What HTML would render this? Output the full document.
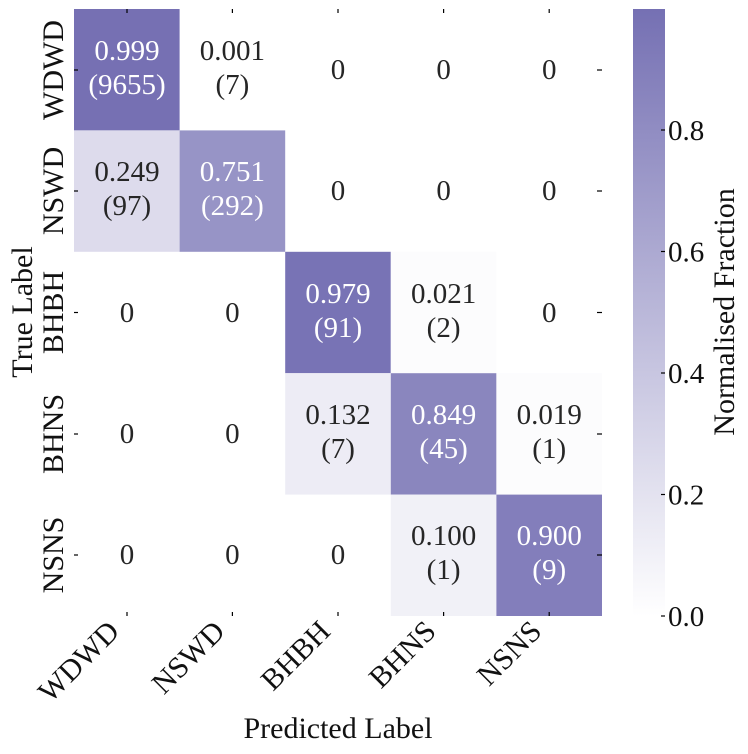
<!DOCTYPE html>
<html><head><meta charset="utf-8"><style>
html,body{margin:0;padding:0;background:#fff;}
svg{display:block;font-family:"Liberation Serif","DejaVu Serif",serif;}
</style></head><body>
<svg width="748" height="754" viewBox="0 0 748 754" xmlns="http://www.w3.org/2000/svg">
<defs>
<linearGradient id="cb" x1="0" y1="1" x2="0" y2="0">
<stop offset="0" stop-color="#ffffff"/>
<stop offset="1" stop-color="#7570b3"/>
</linearGradient>
</defs>
<g>
<rect x="74" y="9" width="105.6" height="121.4" fill="#7670b3"/>
<rect x="74" y="130.4" width="105.6" height="121.4" fill="#dddbec"/>
<rect x="179.6" y="130.4" width="105.6" height="121.4" fill="#9794c6"/>
<rect x="285.2" y="251.8" width="105.6" height="121.4" fill="#7873b5"/>
<rect x="390.8" y="251.8" width="105.6" height="121.4" fill="#fcfcfd"/>
<rect x="285.2" y="373.2" width="105.6" height="121.4" fill="#edecf5"/>
<rect x="390.8" y="373.2" width="105.6" height="121.4" fill="#8a86be"/>
<rect x="496.4" y="373.2" width="105.6" height="121.4" fill="#fcfcfd"/>
<rect x="390.8" y="494.6" width="105.6" height="121.4" fill="#f1f1f7"/>
<rect x="496.4" y="494.6" width="105.6" height="121.4" fill="#837ebb"/>
</g>
<g stroke="#000" stroke-width="1.2">
<line x1="127" y1="9" x2="127" y2="13"/><line x1="232.4" y1="9" x2="232.4" y2="13"/><line x1="338" y1="9" x2="338" y2="13"/><line x1="443.6" y1="9" x2="443.6" y2="13"/><line x1="549.2" y1="9" x2="549.2" y2="13"/>
<line x1="127" y1="612" x2="127" y2="616"/><line x1="232.4" y1="612" x2="232.4" y2="616"/><line x1="338" y1="612" x2="338" y2="616"/><line x1="443.6" y1="612" x2="443.6" y2="616"/><line x1="549.2" y1="612" x2="549.2" y2="616"/>
<line x1="74" y1="70" x2="78" y2="70"/><line x1="74" y1="191" x2="78" y2="191"/><line x1="74" y1="312.5" x2="78" y2="312.5"/><line x1="74" y1="434" x2="78" y2="434"/><line x1="74" y1="555" x2="78" y2="555"/>
<line x1="597" y1="70" x2="602" y2="70"/><line x1="597" y1="191" x2="602" y2="191"/><line x1="597" y1="312.5" x2="602" y2="312.5"/><line x1="597" y1="434" x2="602" y2="434"/><line x1="597" y1="555" x2="602" y2="555"/>
</g>
<g font-size="29" text-anchor="middle">
<g fill="#fff">
<text x="127" y="60">0.999</text><text x="127" y="94">(9655)</text>
<text x="232.4" y="181">0.751</text><text x="232.4" y="215">(292)</text>
<text x="338" y="303">0.979</text><text x="338" y="337">(91)</text>
<text x="443.6" y="424">0.849</text><text x="443.6" y="458">(45)</text>
<text x="549.2" y="545">0.900</text><text x="549.2" y="579">(9)</text>
</g>
<g fill="#262626">
<text x="232.4" y="60">0.001</text><text x="232.4" y="94">(7)</text>
<text x="338" y="79">0</text><text x="443.6" y="79">0</text><text x="549.2" y="79">0</text>
<text x="127" y="181">0.249</text><text x="127" y="215">(97)</text>
<text x="338" y="200">0</text><text x="443.6" y="200">0</text><text x="549.2" y="200">0</text>
<text x="127" y="322">0</text><text x="232.4" y="322">0</text>
<text x="443.6" y="303">0.021</text><text x="443.6" y="337">(2)</text>
<text x="549.2" y="322">0</text>
<text x="127" y="443">0</text><text x="232.4" y="443">0</text>
<text x="338" y="424">0.132</text><text x="338" y="458">(7)</text>
<text x="549.2" y="424">0.019</text><text x="549.2" y="458">(1)</text>
<text x="127" y="564">0</text><text x="232.4" y="564">0</text><text x="338" y="564">0</text>
<text x="443.6" y="545">0.100</text><text x="443.6" y="579">(1)</text>
</g>
</g>
<g font-size="30" fill="#111" text-anchor="middle">
<text transform="translate(63,70) rotate(-90)">WDWD</text>
<text transform="translate(63,191) rotate(-90)">NSWD</text>
<text transform="translate(63,312.5) rotate(-90)">BHBH</text>
<text transform="translate(63,434) rotate(-90)">BHNS</text>
<text transform="translate(63,555) rotate(-90)">NSNS</text>
<text transform="translate(32,312) rotate(-90)">True Label</text>
<text transform="translate(734,312) rotate(-90)">Normalised Fraction</text>
<text x="338" y="738">Predicted Label</text>
</g>
<g font-size="30" fill="#111" text-anchor="end">
<text transform="translate(121,633) rotate(-45)">WDWD</text>
<text transform="translate(226.4,633) rotate(-45)">NSWD</text>
<text transform="translate(332,633) rotate(-45)">BHBH</text>
<text transform="translate(437.6,633) rotate(-45)">BHNS</text>
<text transform="translate(543.2,633) rotate(-45)">NSNS</text>
</g>
<rect x="633" y="9" width="32" height="607" fill="url(#cb)"/>
<g stroke="#000" stroke-width="1.2">
<line x1="661" y1="616" x2="665" y2="616"/><line x1="661" y1="494.5" x2="665" y2="494.5"/><line x1="661" y1="373" x2="665" y2="373"/><line x1="661" y1="251.5" x2="665" y2="251.5"/><line x1="661" y1="130" x2="665" y2="130"/>
</g>
<g font-size="29" fill="#111">
<text x="668" y="626">0.0</text>
<text x="668" y="504.5">0.2</text>
<text x="668" y="383">0.4</text>
<text x="668" y="261.5">0.6</text>
<text x="668" y="140">0.8</text>
</g>
</svg>
</body></html>
